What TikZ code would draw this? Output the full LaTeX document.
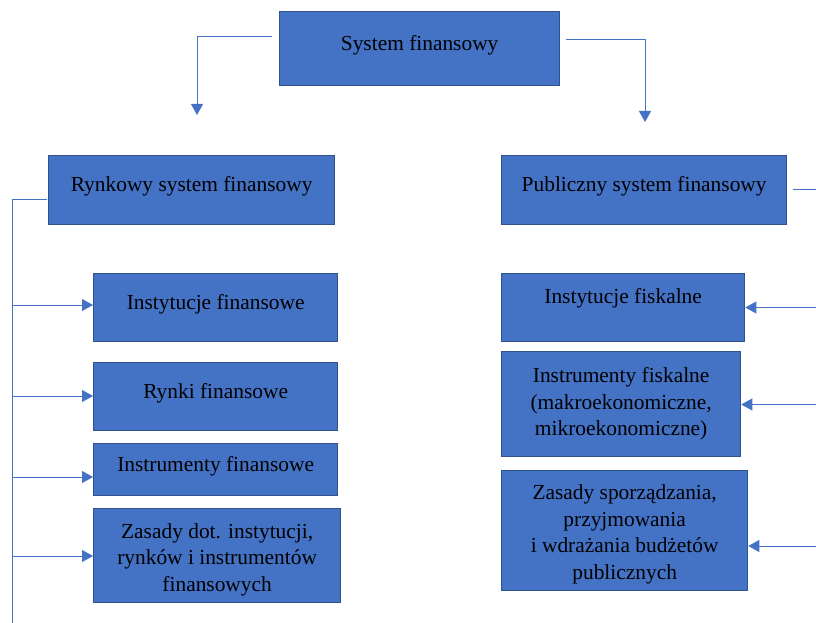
\documentclass[tikz,border=0pt]{standalone}
\usepackage{fontspec}
\setmainfont{Liberation Serif}
\usetikzlibrary{arrows.meta}
\definecolor{boxfill}{HTML}{4472C4}
\definecolor{boxline}{HTML}{2F528F}
\definecolor{linkcol}{HTML}{4472C4}
% taller first line pushes a multi-line label slightly down
\newcommand{\tallstrut}{\rule{0pt}{22.5pt}}
\begin{document}
\begin{tikzpicture}[x=1pt,y=-1pt,
  box/.style={draw=boxline, line width=1.3pt, fill=boxfill, anchor=north west,
    inner sep=0pt, align=center, text=black,
    font=\fontsize{21.4}{26.5}\selectfont},
  oneline/.style={text depth=12pt},
  link/.style={draw=linkcol, line width=0.9pt},
  arr/.style={link, -{Triangle[length=11pt,width=12pt]}}
]
\useasboundingbox (0,0) rectangle (816,623);

% top level
\node[box, oneline, minimum width=280pt, minimum height=74pt] (sys) at (279,11) {System finansowy};

% second level
\node[box, oneline, minimum width=286pt, minimum height=69pt] (ryn) at (48,155) {Rynkowy system finansowy};
\node[box, oneline, minimum width=285pt, minimum height=69pt] (pub) at (501,155) {Publiczny system finansowy};

% market branch
\node[box, oneline, minimum width=244pt, minimum height=68pt] (instf) at (93,273) {Instytucje finansowe};
\node[box, oneline, minimum width=244pt, minimum height=68pt] (rynki) at (93,362) {Rynki finansowe};
\node[box, oneline, minimum width=244pt, minimum height=52pt] (instrf) at (93,443) {Instrumenty finansowe};
\node[box, minimum width=247pt, minimum height=94pt] (zasf) at (93,508) {\tallstrut Zasady dot. instytucji,\\rynków i instrumentów\\finansowych};

% public branch
\node[box, text depth=24pt, minimum width=243pt, minimum height=68pt] (instfis) at (501,273) {Instytucje fiskalne};
\node[box, minimum width=239pt, minimum height=105pt] (instrfis) at (501,351) {Instrumenty fiskalne\\(makroekonomiczne,\\mikroekonomiczne)};
\node[box, minimum width=246pt, minimum height=120pt] (zasb) at (501,470) {\tallstrut Zasady sporządzania,\\przyjmowania\\i wdrażania budżetów\\publicznych};

% links from the top box
\coordinate (sysL) at (272,36.5);
\coordinate (sysLd) at (197,115);
\coordinate (sysR) at (566,39);
\coordinate (sysRd) at (645,122);
\draw[arr] (sysL) -| (sysLd);
\draw[arr] (sysR) -| (sysRd);

% market bracket
\coordinate (rynL) at (47,199);
\coordinate (spine) at (12,199);
\coordinate (spineEnd) at (12,623);
\draw[link] (rynL) -- (spine) -- (spineEnd);
\coordinate (m1) at (12,305);
\coordinate (m2) at (12,396);
\coordinate (m3) at (12,477);
\coordinate (m4) at (12,556);
\draw[arr] (m1) -- (m1 -| instf.west);
\draw[arr] (m2) -- (m2 -| rynki.west);
\draw[arr] (m3) -- (m3 -| instrf.west);
\draw[arr] (m4) -- (m4 -| zasf.west);

% public side links
\coordinate (pubR) at (793,189);
\coordinate (pubRe) at (816,189);
\draw[link] (pubR) -- (pubRe);
\coordinate (p1) at (816,307.5);
\coordinate (p2) at (816,404.5);
\coordinate (p3) at (816,546);
\draw[arr] (p1) -- (p1 -| instfis.east);
\draw[arr] (p2) -- (p2 -| instrfis.east);
\draw[arr] (p3) -- (p3 -| zasb.east);
\end{tikzpicture}
\end{document}
